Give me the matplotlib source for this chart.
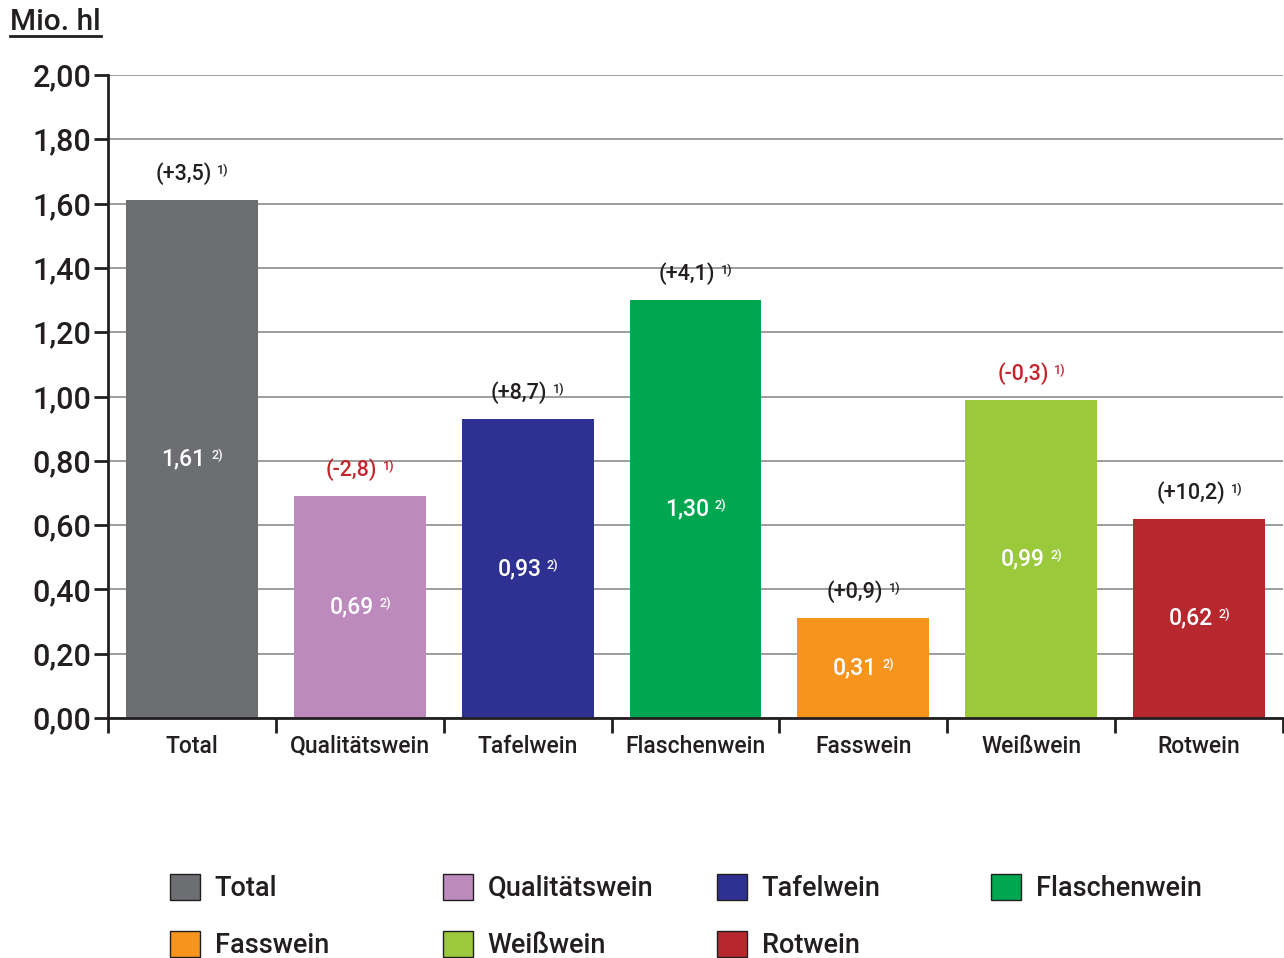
import matplotlib
matplotlib.use("Agg")
import matplotlib.pyplot as plt
from matplotlib.patches import Patch
from matplotlib.lines import Line2D
import numpy as np

# Data:
categories = ["Total", "Qualitätswein", "Tafelwein", "Flaschenwein", "Fasswein", "Weißwein", "Rotwein"]
values = [1.61, 0.69, 0.93, 1.30, 0.31, 0.99, 0.62]  # Mio. hl
changes = [3.5, -2.8, 8.7, 4.1, 0.9, -0.3, 10.2]  # %
colors = ["#6d6e71", "#bc8abd", "#2e3192", "#00a650", "#f7941d", "#9aca3c", "#b7282e"]
yticks = [0.0, 0.2, 0.4, 0.6, 0.8, 1.0, 1.2, 1.4, 1.6, 1.8, 2.0]

# Styles:
text_color = "#231f20"
neg_color = "#c1272d"
grid_color = "#9d9d9d"

plt.rcParams["font.family"] = ["Roboto", "DejaVu Sans"]
plt.rcParams["font.weight"] = "medium"


def de(v, nd):
    return f"{v:.{nd}f}".replace(".", ",")


W, H = 1284, 958
fig = plt.figure(figsize=(W / 100, H / 100), dpi=100)
ax = fig.add_axes([108 / W, (H - 718) / H, 1175 / W, 643 / H])

x = np.arange(len(categories))
ax.bar(x, values, width=0.786, color=colors, zorder=2)

ax.set_xlim(-0.5, len(categories) - 0.5)
ax.set_ylim(0, 2.0)

# y axis
ax.set_yticks(yticks)
ax.set_yticklabels([de(t, 2) for t in yticks])
ax.tick_params(axis="y", direction="out", length=10, width=2, color=text_color,
               labelsize=22, labelcolor=text_color, pad=2)
ax.yaxis.grid(True, color=grid_color, lw=1.4, zorder=0)
ax.set_axisbelow(True)

# x axis: labels at centres, tick marks at category borders
ax.set_xticks(x)
ax.set_xticklabels(categories)
ax.set_xticks(np.arange(len(categories) + 1) - 0.5, minor=True)
ax.tick_params(axis="x", which="major", length=0, labelsize=16.5, labelcolor=text_color, pad=12)
ax.tick_params(axis="x", which="minor", direction="out", length=11, width=2, color=text_color)

for s in ["top", "right"]:
    ax.spines[s].set_visible(False)
for s in ["left", "bottom"]:
    ax.spines[s].set_linewidth(2)
    ax.spines[s].set_color(text_color)
ax.spines["bottom"].set_zorder(3)

# Labels on and above bars:
for xi, v, c in zip(x, values, changes):
    inner = ax.annotate(de(v, 2), xy=(xi, v / 2), xytext=(-6, 0), textcoords="offset points",
                        ha="center", va="center", color="white", fontsize=16.5, zorder=4)
    ax.annotate("2)", xy=(1, 1), xycoords=inner, xytext=(4, -1), textcoords="offset points",
                ha="left", va="top", color="white", fontsize=9, zorder=4)

    col = neg_color if c < 0 else text_color
    sign = "+" if c > 0 else ""
    top = ax.annotate(f"({sign}{de(c, 1)})", xy=(xi, v), xytext=(-6, 19), textcoords="offset points",
                      ha="center", va="center", color=col, fontsize=15.5)
    ax.annotate("1)", xy=(1, 1), xycoords=top, xytext=(4, -1), textcoords="offset points",
                ha="left", va="top", color=col, fontsize=9)

# Unit label, underlined
unit = fig.text(10 / W, 1 - 22 / H, "Mio. hl", fontsize=21.5, color=text_color, ha="left", va="center")
fig.canvas.draw()
bb = unit.get_window_extent().transformed(fig.transFigure.inverted())
fig.add_artist(Line2D([bb.x0, bb.x1], [1 - 36 / H, 1 - 36 / H], transform=fig.transFigure,
                      color=text_color, lw=2))

# Legend: four equally spaced columns
handles = [Patch(facecolor=col, edgecolor=text_color, lw=1, label=cat) for cat, col in zip(categories, colors)]
col_x = [170, 443, 717, 991]
for i, cx in enumerate(col_x):
    fig.legend(handles=handles[i::4], loc="upper left", bbox_to_anchor=(cx / W, 1 - 874 / H),
               frameon=False, fontsize=19.5, handlelength=1.1, handleheight=1.1, handletextpad=0.55,
               labelspacing=1.05, borderpad=0, borderaxespad=0, labelcolor=text_color)

fig.savefig("out.png", dpi=100)
